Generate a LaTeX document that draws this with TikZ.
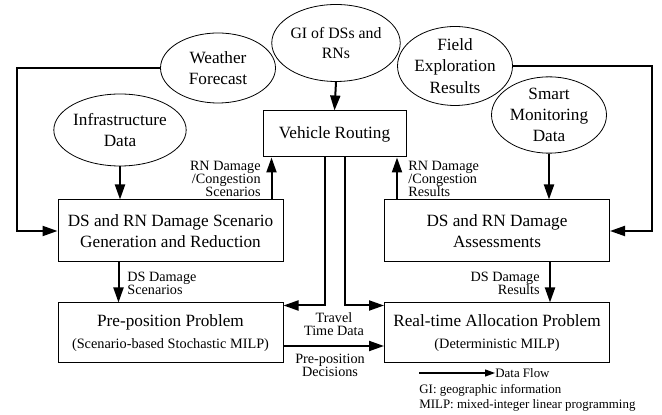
\documentclass[tikz,border=0pt]{standalone}
\usepackage{fontspec}
\setmainfont{Liberation Serif}
\usetikzlibrary{positioning,arrows.meta,shapes.geometric,calc}
\newcommand{\mainsize}{\fontsize{8.6pt}{10.6pt}\selectfont}
\newcommand{\subsize}{\fontsize{7.15pt}{11.5pt}\selectfont}
\newcommand{\lblsize}{\fontsize{7.1pt}{6.5pt}\selectfont}
\newcommand{\legsize}{\fontsize{6.45pt}{7.5pt}\selectfont}
\tikzset{
    sourcell/.style={
        draw, ellipse, line width=0.4pt,
        minimum width=57.5pt, inner sep=0pt,
        font=\mainsize, align=center
    },
    procbox/.style={
        draw, line width=0.5pt,
        minimum width=112.5pt, minimum height=31pt,
        font=\mainsize, align=center
    },
    flowlabel/.style={font=\lblsize, inner sep=0pt},
    legtext/.style={font=\legsize, inner sep=0pt, anchor=west},
    flow/.style={-{Triangle[length=7.5pt,width=5pt]}, line width=1pt},
}

\begin{document}
\begin{tikzpicture}[x=0.5pt, y=-0.5pt]
    \useasboundingbox (0,0) rectangle (662,415);
    % data sources
    \node[sourcell, minimum height=35pt] (wf) at (218,68) {Weather\\Forecast};
    \node[sourcell, minimum height=38.5pt, font=\fontsize{7.9pt}{10pt}\selectfont] (gi) at (336,43) {GI of DSs and\\RNs};
    \node[sourcell, minimum height=39.5pt] (fe) at (455,66) {Field\\Exploration\\Results};
    \node[sourcell, minimum height=36.5pt] (sm) at (549,115) {Smart\\Monitoring\\Data};
    \node[sourcell, minimum height=36pt] (inf) at (120,130) {Infrastructure\\Data};
    % processes
    \node[procbox, minimum width=71.5pt, minimum height=23pt] (vr) at (334.5,134) {Vehicle Routing};
    \node[procbox] (gen) at (170.5,231) {DS and RN Damage Scenario\\Generation and Reduction};
    \node[procbox] (ass) at (497,231) {DS and RN Damage\\Assessments};
    \node[procbox, minimum height=30pt] (pre) at (170.5,333) {Pre-position Problem\\{\subsize(Scenario-based Stochastic MILP)}};
    \node[procbox, minimum height=30pt] (rt) at (497,333) {Real-time Allocation Problem\\{\subsize(Deterministic MILP)}};
    % data flows
    \draw[flow] (inf.south) -- (inf.south |- gen.north);
    \draw[flow] (sm.south) -- (sm.south |- ass.north);
    \draw[flow] (gi.south) -- (vr.north);
    \draw[flow] (wf.west) -- ++(-143.5,0) |- (gen.west);
    \draw[flow] (fe.east) -- ++(139.5,0) |- (ass.east);
    \draw[flow] ([xshift=-6pt]gen.north east) -- ([xshift=-6pt]gen.north east |- vr.south);
    \draw[flow] ([xshift=6.5pt]ass.north west) -- ([xshift=6.5pt]ass.north west |- vr.south);
    \draw[flow] ([xshift=-5pt]vr.south) |- ([yshift=-1.5pt]pre.north east);
    \draw[flow] ([xshift=5pt]vr.south) |- ([yshift=-1.5pt]rt.north west);
    \draw[flow] ([xshift=30.5pt]gen.south west) -- ([xshift=30.5pt]pre.north west);
    \draw[flow] ([xshift=-30pt]ass.south east) -- ([xshift=-30pt]rt.north east);
    \draw[flow] ([yshift=-6.5pt]pre.east) -- ([yshift=-6.5pt]rt.west);
    % flow labels
    \node[flowlabel, anchor=east, align=right] (lrn) at (261,179) {RN Damage\\/Congestion\\Scenarios};
    \node[flowlabel, anchor=west, align=left] (rrn) at (408,179) {RN Damage\\/Congestion\\Results};
    \node[flowlabel, anchor=west, align=left] (lds) at (127,283) {DS Damage\\Scenarios};
    \node[flowlabel, anchor=east, align=right] (rds) at (540,283) {DS Damage\\Results};
    \node[flowlabel, align=center] (ttd) at (334,324) {Travel\\Time Data};
    \node[flowlabel, align=center] (ppd) at (330,365) {Pre-position\\Decisions};
    % legend
    \coordinate (lgs) at (419,373);
    \node[legtext] (lgt) at (495,373) {Data Flow};
    \draw[-{Triangle[length=5pt,width=3.5pt]}, line width=0.6pt] (lgs) -- (lgt.west);
    \node[legtext] (gil) at (419,390) {GI: geographic information};
    \node[legtext] (mil) at (419,405) {MILP: mixed-integer linear programming};
\end{tikzpicture}
\end{document}
